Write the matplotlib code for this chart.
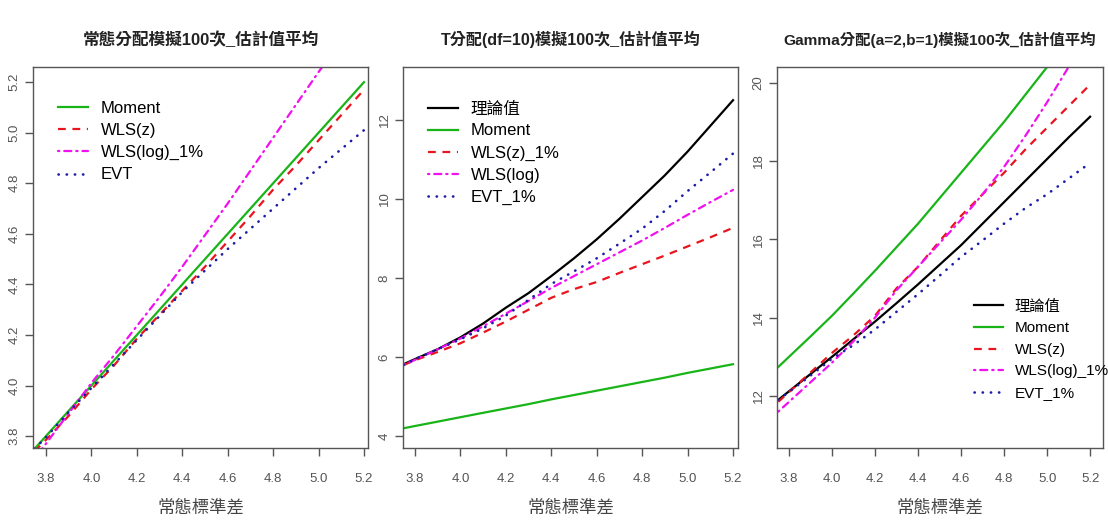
import numpy as np
import matplotlib
matplotlib.use("Agg")
from matplotlib import pyplot as plt

plt.rcParams['font.family'] = ['Liberation Sans', 'Noto Sans CJK TC', 'DejaVu Sans']

# 常態標準差
sd = [3.75, 3.8, 3.9, 4.0, 4.1, 4.2, 4.3, 4.4, 4.5, 4.6, 4.7, 4.8, 4.9, 5.0, 5.1, 5.2]

# 常態分配
norm_moment = [3.75, 3.80, 3.90, 4.00, 4.10, 4.20, 4.30, 4.40, 4.50, 4.60, 4.70, 4.80, 4.90, 5.00, 5.10, 5.20]
norm_wls_z = [3.74, 3.785, 3.88, 3.985, 4.08, 4.185, 4.28, 4.375, 4.47, 4.57, 4.67, 4.775, 4.87, 4.97, 5.07, 5.17]
norm_wls_log = [3.71, 3.77, 3.89, 4.01, 4.12, 4.235, 4.35, 4.47, 4.595, 4.72, 4.85, 4.98, 5.11, 5.24, 5.365, 5.49]
norm_evt = [3.75, 3.795, 3.895, 3.99, 4.085, 4.18, 4.275, 4.37, 4.455, 4.54, 4.62, 4.70, 4.78, 4.86, 4.935, 5.01]

# T分配(df=10)
t_theory = [5.82, 5.95, 6.2, 6.5, 6.85, 7.25, 7.62, 8.05, 8.5, 8.98, 9.5, 10.05, 10.6, 11.2, 11.85, 12.5]
t_moment = [4.2, 4.256, 4.367, 4.479, 4.59, 4.70, 4.81, 4.93, 5.04, 5.15, 5.26, 5.37, 5.48, 5.60, 5.71, 5.82]
t_wls_z = [5.8, 5.92, 6.13, 6.35, 6.62, 6.9, 7.2, 7.5, 7.72, 7.9, 8.13, 8.35, 8.57, 8.8, 9.03, 9.27]
t_wls_log = [5.8, 5.93, 6.2, 6.47, 6.78, 7.1, 7.42, 7.75, 8.05, 8.35, 8.65, 8.95, 9.27, 9.6, 9.92, 10.23]
t_evt = [5.8, 5.95, 6.2, 6.45, 6.73, 7.05, 7.45, 7.85, 8.17, 8.5, 8.87, 9.25, 9.7, 10.2, 10.67, 11.15]

# Gamma分配(a=2,b=1)
g_theory = [11.9, 12.12, 12.56, 13.0, 13.45, 13.9, 14.37, 14.85, 15.35, 15.85, 16.4, 16.95, 17.5, 18.05, 18.6, 19.13]
g_moment = [12.74, 13.0, 13.52, 14.05, 14.62, 15.2, 15.8, 16.4, 17.05, 17.7, 18.35, 19.0, 19.7, 20.4, 21.1, 21.8]
g_wls_z = [11.85, 12.1, 12.6, 13.1, 13.55, 14.05, 14.75, 15.3, 15.95, 16.6, 17.15, 17.7, 18.3, 18.85, 19.4, 19.95]
g_wls_log = [11.6, 11.85, 12.35, 12.85, 13.4, 14.0, 14.7, 15.3, 15.9, 16.5, 17.15, 17.85, 18.65, 19.5, 20.4, 21.2]
g_evt = [11.9, 12.1, 12.52, 12.95, 13.3, 13.7, 14.15, 14.6, 15.07, 15.55, 15.97, 16.4, 16.8, 17.15, 17.55, 17.95]

x_ticks = [3.8, 4.0, 4.2, 4.4, 4.6, 4.8, 5.0, 5.2]

LW = 1.6
STYLE = {
    "theory": dict(color="black", lw=LW, ls="-"),
    "moment": dict(color="#18b418", lw=LW, ls="-"),
    "wls_z": dict(color="#e8141e", lw=LW, ls=(0, (3.5, 3))),
    "wls_log": dict(color="#f010f0", lw=LW, ls=(0, (0.6, 2.2, 3.2, 2.2)), dash_capstyle="round"),
    "evt": dict(color="#1c1ca8", lw=1.9, ls=(0, (0.1, 3.0)), dash_capstyle="round"),
}

fig = plt.figure(figsize=(11.08, 5.25), dpi=100)
bottom, height = 0.1467, 0.7257
ax1 = fig.add_axes([0.0298, bottom, 0.3024, height])
ax2 = fig.add_axes([0.3637, bottom, 0.3024, height])
ax3 = fig.add_axes([0.7013, bottom, 0.2942, height])


def style_axes(ax, title, yticks, ylim, xlim, title_size=12):
    ax.set_xlim(*xlim)
    ax.set_ylim(*ylim)
    ax.set_xticks(x_ticks)
    ax.set_xticklabels(["%.1f" % v for v in x_ticks])
    ax.set_yticks(yticks)
    ax.set_yticklabels(["%g" % v if ylim[1] > 10 else "%.1f" % v for v in yticks],
                       rotation=90, va="center")
    for s in ax.spines.values():
        s.set_color("#555555")
        s.set_linewidth(1.0)
    ax.tick_params(colors="#555555", labelcolor="#555555", labelsize=9.5,
                   length=6, width=1.0, direction="out")
    ax.tick_params(axis="x", pad=12)
    ax.tick_params(axis="y", pad=3)
    ax.set_title(title, fontsize=title_size, fontweight="bold", pad=16, color="#222222")
    ax.set_xlabel("常態標準差", fontsize=12.5, color="#444444", labelpad=10)


# 常態分配
ax1.plot(sd, norm_moment, label="Moment", **STYLE["moment"])
ax1.plot(sd, norm_wls_z, label="WLS(z)", **STYLE["wls_z"])
ax1.plot(sd, norm_wls_log, label="WLS(log)_1%", **STYLE["wls_log"])
ax1.plot(sd, norm_evt, label="EVT", **STYLE["evt"])
style_axes(ax1, "常態分配模擬100次_估計值平均",
           [3.8, 4.0, 4.2, 4.4, 4.6, 4.8, 5.0, 5.2], (3.753, 5.26), (3.743, 5.218))

# T分配
ax2.plot(sd, t_theory, label="理論值", **STYLE["theory"])
ax2.plot(sd, t_moment, label="Moment", **STYLE["moment"])
ax2.plot(sd, t_wls_z, label="WLS(z)_1%", **STYLE["wls_z"])
ax2.plot(sd, t_wls_log, label="WLS(log)", **STYLE["wls_log"])
ax2.plot(sd, t_evt, label="EVT_1%", **STYLE["evt"])
style_axes(ax2, "T分配(df=10)模擬100次_估計值平均",
           [4, 6, 8, 10, 12], (3.7, 13.34), (3.747, 5.222), title_size=11.6)

# Gamma分配
ax3.plot(sd, g_theory, label="理論值", **STYLE["theory"])
ax3.plot(sd, g_moment, label="Moment", **STYLE["moment"])
ax3.plot(sd, g_wls_z, label="WLS(z)", **STYLE["wls_z"])
ax3.plot(sd, g_wls_log, label="WLS(log)_1%", **STYLE["wls_log"])
ax3.plot(sd, g_evt, label="EVT_1%", **STYLE["evt"])
style_axes(ax3, "Gamma分配(a=2,b=1)模擬100次_估計值平均",
           [12, 14, 16, 18, 20], (10.67, 20.4), (3.744, 5.26), title_size=11.1)

leg_kw = dict(frameon=False, fontsize=12, handlelength=1.8, handletextpad=0.75,
              labelspacing=0.42, borderaxespad=0.0, borderpad=0.0)
ax1.legend(loc="upper left", bbox_to_anchor=(0.075, 0.91), **leg_kw)
ax2.legend(loc="upper left", bbox_to_anchor=(0.075, 0.91), **leg_kw)
ax3.legend(loc="upper left", bbox_to_anchor=(0.605, 0.39),
           **dict(leg_kw, fontsize=11, labelspacing=0.5, handlelength=1.9))

fig.savefig("out.png", dpi=100, facecolor="white")
